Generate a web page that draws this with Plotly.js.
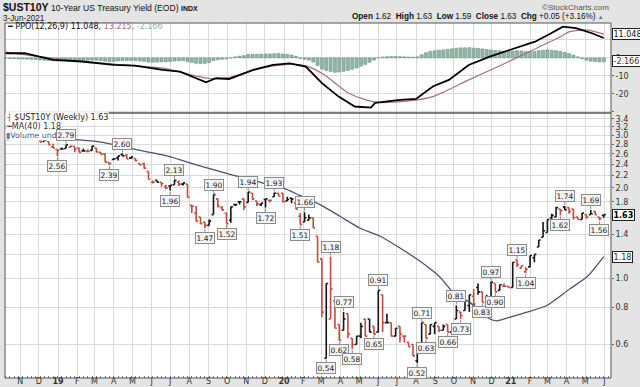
<!DOCTYPE html>
<html><head><meta charset="utf-8">
<script src="https://cdn.plot.ly/plotly-3.0.1.min.js"></script>
<style>html,body{margin:0;padding:0;background:#e4e4e4;}#chart{width:640px;height:387px;}</style>
</head><body><div id="chart"></div>
<script>
// ---- weekly bars (week start dates) ----
const weeks = ['2018-10-08','2018-10-15','2018-10-22','2018-10-29','2018-11-05','2018-11-12','2018-11-19','2018-11-26','2018-12-03','2018-12-10','2018-12-17','2018-12-24','2018-12-31',
'2019-01-07','2019-01-14','2019-01-21','2019-01-28','2019-02-04','2019-02-11','2019-02-18','2019-02-25','2019-03-04','2019-03-11','2019-03-18','2019-03-25','2019-04-01','2019-04-08','2019-04-15','2019-04-22','2019-04-29','2019-05-06','2019-05-13','2019-05-20','2019-05-27','2019-06-03','2019-06-10','2019-06-17','2019-06-24','2019-07-01','2019-07-08','2019-07-15','2019-07-22','2019-07-29','2019-08-05','2019-08-12','2019-08-19','2019-08-26','2019-09-02','2019-09-09','2019-09-16','2019-09-23','2019-09-30','2019-10-07','2019-10-14','2019-10-21','2019-10-28','2019-11-04','2019-11-11','2019-11-18','2019-11-25','2019-12-02','2019-12-09','2019-12-16','2019-12-23','2019-12-30',
'2020-01-06','2020-01-13','2020-01-20','2020-01-27','2020-02-03','2020-02-10','2020-02-17','2020-02-24','2020-03-02','2020-03-09','2020-03-16','2020-03-23','2020-03-30','2020-04-06','2020-04-13','2020-04-20','2020-04-27','2020-05-04','2020-05-11','2020-05-18','2020-05-25','2020-06-01','2020-06-08','2020-06-15','2020-06-22','2020-06-29','2020-07-06','2020-07-13','2020-07-20','2020-07-27','2020-08-03','2020-08-10','2020-08-17','2020-08-24','2020-08-31','2020-09-07','2020-09-14','2020-09-21','2020-09-28','2020-10-05','2020-10-12','2020-10-19','2020-10-26','2020-11-02','2020-11-09','2020-11-16','2020-11-23','2020-11-30','2020-12-07','2020-12-14','2020-12-21','2020-12-28',
'2021-01-04','2021-01-11','2021-01-18','2021-01-25','2021-02-01','2021-02-08','2021-02-15','2021-02-22','2021-03-01','2021-03-08','2021-03-15','2021-03-22','2021-03-29','2021-04-05','2021-04-12','2021-04-19','2021-04-26','2021-05-03','2021-05-10','2021-05-17','2021-05-24','2021-05-31'];

const openP = [3.23,3.16,3.17,3.12,3.20,3.14,3.06,3.07,2.98,2.86,2.86,2.74,2.69,
2.70,2.71,2.74,2.75,2.72,2.66,2.65,2.67,2.72,2.63,2.60,2.43,2.49,2.52,2.59,2.57,2.52,2.51,2.41,2.41,2.27,2.09,2.12,2.09,2.02,2.03,2.05,2.09,2.06,2.06,1.75,1.65,1.60,1.54,1.50,1.63,1.84,1.72,1.65,1.56,1.76,1.80,1.84,1.79,1.92,1.81,1.76,1.83,1.82,1.87,1.92,1.92,
1.81,1.85,1.78,1.61,1.54,1.56,1.59,1.38,1.16,0.54,0.73,0.84,0.70,0.67,0.76,0.63,0.60,0.64,0.73,0.73,0.69,0.66,0.88,0.71,0.71,0.64,0.69,0.64,0.61,0.60,0.53,0.58,0.70,0.65,0.69,0.69,0.67,0.70,0.66,0.73,0.77,0.78,0.81,0.87,0.93,0.90,0.86,0.84,0.96,0.91,0.94,0.94,
0.93,1.15,1.08,1.05,1.09,1.17,1.27,1.37,1.42,1.59,1.60,1.70,1.73,1.72,1.70,1.60,1.57,1.63,1.63,1.67,1.60,1.62];
const highP = [3.23,3.20,3.17,3.22,3.24,3.14,3.06,3.07,2.98,2.91,2.86,2.81,2.69,
2.73,2.79,2.76,2.75,2.73,2.71,2.69,2.76,2.72,2.63,2.60,2.43,2.52,2.56,2.60,2.59,2.54,2.51,2.41,2.43,2.27,2.12,2.12,2.09,2.05,2.04,2.13,2.12,2.08,2.06,1.75,1.74,1.60,1.54,1.57,1.90,1.84,1.74,1.65,1.73,1.76,1.80,1.84,1.94,1.92,1.81,1.78,1.84,1.82,1.93,1.92,1.92,
1.87,1.85,1.78,1.65,1.66,1.63,1.59,1.38,1.16,0.96,1.18,0.84,0.70,0.77,0.76,0.63,0.64,0.71,0.73,0.73,0.69,0.91,0.88,0.76,0.71,0.68,0.69,0.64,0.61,0.60,0.57,0.71,0.70,0.70,0.71,0.69,0.70,0.70,0.70,0.81,0.77,0.85,0.88,0.92,0.96,0.90,0.88,0.97,0.96,0.95,0.96,0.94,
1.13,1.15,1.10,1.09,1.19,1.20,1.34,1.54,1.57,1.64,1.73,1.70,1.74,1.72,1.70,1.60,1.65,1.63,1.69,1.68,1.60,1.63];
const lowP = [3.15,3.15,3.08,3.12,3.18,3.08,3.05,2.99,2.85,2.86,2.79,2.72,2.56,
2.70,2.71,2.72,2.63,2.63,2.66,2.65,2.67,2.63,2.59,2.44,2.39,2.49,2.47,2.56,2.50,2.50,2.45,2.38,2.32,2.14,2.07,2.09,2.02,1.98,1.96,2.05,2.03,2.04,1.86,1.65,1.55,1.52,1.47,1.50,1.63,1.72,1.68,1.52,1.53,1.74,1.76,1.69,1.79,1.82,1.74,1.74,1.72,1.79,1.87,1.88,1.79,
1.81,1.78,1.70,1.51,1.54,1.56,1.47,1.13,0.74,0.54,0.73,0.68,0.62,0.67,0.63,0.58,0.60,0.63,0.64,0.66,0.65,0.66,0.66,0.71,0.64,0.64,0.61,0.61,0.59,0.55,0.52,0.58,0.63,0.65,0.65,0.66,0.67,0.66,0.66,0.73,0.73,0.78,0.77,0.78,0.88,0.83,0.84,0.84,0.90,0.91,0.94,0.93,
0.93,1.09,1.08,1.04,1.09,1.13,1.27,1.37,1.42,1.52,1.60,1.62,1.69,1.64,1.57,1.57,1.57,1.58,1.63,1.63,1.56,1.59];
const closeP = [3.16,3.20,3.08,3.22,3.19,3.08,3.05,3.01,2.85,2.89,2.79,2.72,2.67,
2.70,2.79,2.76,2.70,2.63,2.66,2.65,2.76,2.64,2.59,2.44,2.41,2.50,2.56,2.56,2.50,2.54,2.47,2.39,2.33,2.14,2.09,2.09,2.07,2.00,2.04,2.12,2.06,2.08,1.86,1.74,1.55,1.52,1.50,1.55,1.90,1.74,1.69,1.52,1.73,1.76,1.80,1.73,1.94,1.84,1.77,1.78,1.84,1.82,1.92,1.88,1.80,
1.83,1.84,1.70,1.51,1.59,1.59,1.47,1.13,0.77,0.96,0.92,0.68,0.62,0.73,0.65,0.60,0.64,0.69,0.64,0.66,0.65,0.91,0.71,0.71,0.64,0.68,0.65,0.64,0.59,0.55,0.57,0.71,0.63,0.70,0.71,0.67,0.69,0.66,0.70,0.78,0.75,0.84,0.88,0.82,0.90,0.83,0.84,0.97,0.90,0.95,0.94,0.93,
1.13,1.11,1.10,1.07,1.19,1.20,1.34,1.44,1.57,1.62,1.72,1.68,1.69,1.67,1.59,1.57,1.65,1.60,1.64,1.63,1.58,1.63];

// ---- MA(40) line ----
const maDates = ['2018-10-08','2018-11-22','2019-01-15','2019-03-09','2019-05-02','2019-06-26','2019-08-18','2019-10-10','2019-11-07','2019-12-04','2019-12-30','2020-01-26','2020-02-28','2020-03-31','2020-05-02','2020-06-04','2020-07-06','2020-08-07','2020-09-08','2020-09-29','2020-10-27','2020-11-23','2020-12-09','2020-12-30','2021-01-27','2021-02-28','2021-04-06','2021-05-04','2021-05-31'];
const maVals = [2.89,2.94,2.91,2.85,2.70,2.56,2.37,2.21,2.14,2.06,2.00,1.89,1.76,1.61,1.47,1.38,1.26,1.14,1.01,0.90,0.83,0.74,0.72,0.74,0.77,0.81,0.92,1.01,1.18];

// ---- PPO panel ----
const ppoDates = ['2018-10-08','2018-11-08','2018-12-24','2019-02-08','2019-04-01','2019-05-05','2019-06-19','2019-07-17','2019-08-28','2019-09-13','2019-10-04','2019-11-12','2019-12-14','2020-01-10','2020-02-05','2020-03-02','2020-03-29','2020-04-24','2020-05-20','2020-05-27','2020-07-06','2020-08-01','2020-08-28','2020-09-23','2020-10-25','2020-11-28','2020-12-30','2021-02-09','2021-03-07','2021-03-26','2021-04-16','2021-05-12','2021-05-31'];
const ppoVals = [2.6,2.6,-1.1,-2.0,-3.9,-4.3,-6.7,-7.6,-13.5,-11.3,-11.7,-6.7,-3.9,-3.0,-4.8,-14.0,-21.5,-27.0,-27.6,-25.0,-23.3,-22.8,-15.9,-12.2,-3.9,0.7,4.4,9.0,13.7,17.4,16.5,13.7,11.048];
const sigDates = ['2018-10-08','2018-12-24','2019-04-01','2019-06-19','2019-08-31','2019-10-04','2019-11-27','2020-01-14','2020-02-09','2020-03-06','2020-04-14','2020-05-27','2020-07-19','2020-08-28','2020-10-25','2020-12-17','2021-01-31','2021-03-17','2021-04-06','2021-05-03','2021-05-31'];
const sigVals = [3.2,-0.2,-3.5,-5.7,-11.3,-10.9,-5.4,-3.5,-4.8,-9.4,-19.6,-24.6,-23.9,-21.5,-12.2,-3.9,3.5,10.9,14.6,15.6,13.215];
const histVals = [-0.2,-0.3,-0.4,-0.5,-0.6,-0.7,-0.8,-0.9,
-1.1,-1.3,-1.5,-1.6,-1.7,-1.6,-1.4,-1.3,-1.3,-1.4,-1.4,-1.3,-1.2,-1.3,-1.5,
-1.8,-2.0,-1.9,-1.7,-1.5,-1.5,-1.4,-1.5,-1.7,-1.9,-2.3,-2.4,-2.3,-2.2,-2.2,
-2.0,-1.7,-1.6,-1.5,-2.0,-2.6,-3.0,-3.1,-3.0,-2.6,
-1.5,-1.0,-0.7,-0.6,-0.1,
0.6,1.0,1.3,1.9,2.0,2.0,2.1,2.2,2.2,2.3,2.4,2.2,2.0,1.6,
0.9,-0.3,-0.8,-1.2,
-2.3,-4.2,-6.2,-7.0,-7.5,-8.0,-7.8,-7.4,-7.0,-6.3,-5.6,-4.6,-3.6,-2.4,-1.2,
0.1,0.5,0.7,0.8,0.8,0.7,0.6,0.5,0.4,0.6,
1.8,2.9,3.6,4.0,4.3,4.5,4.8,5.1,5.4,5.6,5.6,5.7,5.5,5.3,5.0,4.7,4.4,4.2,4.0,3.8,
3.6,3.8,4.0,3.9,3.6,3.5,3.6,4.0,4.3,4.5,4.2,4.0,3.6,3.0,2.4,1.6,
0.6,-0.4,-1.3,-1.8,-2.0,-2.2,-2.166];

// ---- swing labels ----
const lblDates = ['2019-01-14','2018-12-31','2019-04-15','2019-03-25','2019-07-08','2019-07-01','2019-09-09','2019-08-26','2019-09-30','2019-11-04','2019-12-02','2019-12-16','2020-02-03','2020-01-27','2020-03-16','2020-03-09','2020-04-06','2020-03-30','2020-04-20','2020-05-25','2020-06-01','2020-08-03','2020-08-10','2020-08-17','2020-09-21','2020-10-05','2020-10-12','2020-11-16','2020-11-30','2020-12-07','2021-01-11','2021-01-25','2021-03-29','2021-03-22','2021-05-10','2021-05-24'];
const lblVals = [2.79,2.56,2.60,2.39,2.13,1.96,1.90,1.47,1.52,1.94,1.72,1.93,1.66,1.51,1.18,0.54,0.77,0.62,0.58,0.65,0.91,0.52,0.71,0.63,0.66,0.81,0.73,0.83,0.97,0.90,1.15,1.04,1.74,1.62,1.69,1.56];
const lblSide = ['a','b','a','b','a','b','a','b','b','a','b','a','a','b','a','b','a','b','b','b','a','b','a','b','b','a','b','b','a','b','a','b','a','b','a','b'];

// ---- axes ticks ----
const monthTicks = ['2018-11-01','2018-12-01','2019-01-01','2019-02-01','2019-03-01','2019-04-01','2019-05-01','2019-06-01','2019-07-01','2019-08-01','2019-09-01','2019-10-01','2019-11-01','2019-12-01','2020-01-01','2020-02-01','2020-03-01','2020-04-01','2020-05-01','2020-06-01','2020-07-01','2020-08-01','2020-09-01','2020-10-01','2020-11-01','2020-12-01','2021-01-01','2021-02-01','2021-03-01','2021-04-01','2021-05-01','2021-06-01'];
const monthText = ['N','D','<b>19</b>','F','M','A','M','J','J','A','S','O','N','D','<b>20</b>','F','M','A','M','J','J','A','S','O','N','D','<b>21</b>','F','M','A','M','J'];
const yTickVals = [0.6,0.8,1.0,1.2,1.4,1.6,1.8,2.0,2.2,2.4,2.6,2.8,3.0,3.2,3.4];
const yTickText = ['0.6','0.8','1.0','','1.4','','1.8','2.0','2.2','2.4','2.6','2.8','3.0','3.2','3.4'];
const ppoTickVals = [-30,-20,-10,0,10,20];
const ppoTickText = ['','-20','-10','0','',''];

// split bars by close vs previous close
const up = {x:[],o:[],h:[],l:[],c:[]}, dn = {x:[],o:[],h:[],l:[],c:[]};
for (let i = 0; i < weeks.length; i++) {
  const prev = i === 0 ? openP[0] : closeP[i-1];
  const t = closeP[i] >= prev ? up : dn;
  t.x.push(weeks[i]); t.o.push(openP[i]); t.h.push(highP[i]); t.l.push(lowP[i]); t.c.push(closeP[i]);
}
const RED = '#c14b41', BLK = '#151515';
const ohlc = (d, col) => ({type:'ohlc', x:d.x, open:d.o, high:d.h, low:d.l, close:d.c, xaxis:'x', yaxis:'y',
  increasing:{line:{color:col,width:1.6}}, decreasing:{line:{color:col,width:1.6}}, tickwidth:0.45, showlegend:false, hoverinfo:'none'});

const traces = [
  {type:'bar', x:weeks, y:histVals, xaxis:'x', yaxis:'y2', marker:{color:'#93b5a6', line:{color:'#6a9685', width:0.6}}, showlegend:false, hoverinfo:'none'},
  {type:'scatter', mode:'lines', x:sigDates, y:sigVals, xaxis:'x', yaxis:'y2', line:{color:'#a8707c', width:1.2, shape:'spline', smoothing:0.6}, showlegend:false, hoverinfo:'none'},
  {type:'scatter', mode:'lines', x:ppoDates, y:ppoVals, xaxis:'x', yaxis:'y2', line:{color:'#000', width:1.8}, showlegend:false, hoverinfo:'none'},
  {type:'scatter', mode:'lines', x:maDates, y:maVals, xaxis:'x', yaxis:'y', line:{color:'#4b5270', width:1.3, shape:'spline', smoothing:0.6}, showlegend:false, hoverinfo:'none'},
  ohlc(up, BLK), ohlc(dn, RED)
];

const F = 'DejaVu Sans', A = 'Liberation Sans';
const PY = px => (378 - px) / 355;   // paper y from pixel
const PX = px => (px - 5) / 606;     // paper x from pixel
const ann = [];
// main-panel legend (drawn first so swing labels sit on top)
ann.push({xref:'paper', yref:'paper', x:0, y:PY(117.5), xanchor:'left', yanchor:'middle', showarrow:false, bgcolor:'#ffffff', borderpad:0,
  text:'<span style="color:#555">┤</span> $UST10Y (Weekly) 1.63', font:{family:F, size:8, color:'#222'}});
ann.push({xref:'paper', yref:'paper', x:0, y:PY(126.5), xanchor:'left', yanchor:'middle', showarrow:false, bgcolor:'#ffffff', borderpad:0,
  text:'<span style="color:#4b5270">━</span>MA(40) 1.18', font:{family:F, size:8, color:'#333'}});
ann.push({xref:'paper', yref:'paper', x:0, y:PY(135.5), xanchor:'left', yanchor:'middle', showarrow:false, bgcolor:'#ffffff', borderpad:0,
  text:'<span style="color:#5b78a8">▮</span>Volume undef', font:{family:F, size:7.8, color:'#3e5687'}});
for (let i = 0; i < lblDates.length; i++) {
  const above = lblSide[i] === 'a';
  ann.push({x:lblDates[i], y:Math.log10(lblVals[i]), xref:'x', yref:'y', text:lblVals[i].toFixed(2),
    showarrow:true, arrowhead:0, arrowwidth:1, arrowcolor:'#8c8c8c', ax:0, ay:above ? -10 : 10, standoff:1,
    bgcolor:'#f3f3f3', bordercolor:'#8c8c8c', borderwidth:1, borderpad:0.5, font:{family:F, size:7.5, color:'#222'}});
}
// PPO legend
ann.push({xref:'paper', yref:'paper', x:0, y:PY(26.5), xanchor:'left', yanchor:'middle', showarrow:false,
  text:'━ PPO(12,26,9) 11.048, <span style="color:#a8707c">13.215,</span> <span style="color:#8fb3a3">-2.166</span>', font:{family:F, size:8, color:'#111'}});
// header
ann.push({xref:'paper', yref:'paper', x:PX(1), y:PY(6.5), xanchor:'left', yanchor:'middle', showarrow:false,
  text:'<b><span style="font-size:10.5px">$UST10Y</span></b> 10-Year US Treasury Yield (EOD) <b><span style="font-size:7px">INDX</span></b>', font:{family:A, size:8.6, color:'#111'}});
ann.push({xref:'paper', yref:'paper', x:PX(1), y:PY(18), xanchor:'left', yanchor:'middle', showarrow:false,
  text:'3-Jun-2021', font:{family:A, size:8.2, color:'#222'}});
ann.push({xref:'paper', yref:'paper', x:PX(611), y:PY(7), xanchor:'right', yanchor:'middle', showarrow:false,
  text:'©StockCharts.com', font:{family:A, size:8, color:'#555'}});
ann.push({xref:'paper', yref:'paper', x:PX(606), y:PY(16.5), xanchor:'right', yanchor:'middle', showarrow:false,
  text:'<b>Open</b> 1.62  <b>High</b> 1.63  <b>Low</b> 1.59  <b>Close</b> 1.63  <b>Chg</b> +0.05 (+3.16%) <span style="font-size:6px;color:#777">▲</span>', font:{family:A, size:8.2, color:'#111'}});
// right-side value tags
const tag = (y, yref, text, col, bold, yshift) => ({xref:'paper', yref:yref, x:1, y:y, xanchor:'left', yanchor:'middle', xshift:1, yshift:yshift||0, showarrow:false,
  text: bold ? '<b>'+text+'</b>' : text, bgcolor:'#ffffff', bordercolor:'#222', borderwidth:1, borderpad:0.5, font:{family:F, size:8, color:col}});
ann.push(tag(Math.log10(1.63), 'y', '1.63', '#000', true));
ann.push(tag(Math.log10(1.18), 'y', '1.18', '#2a2f45', false));
ann.push(tag(11.048, 'y2', '11.048', '#111', false, 4));
ann.push(tag(-2.166, 'y2', '-2.166', '#333', false, 1));

const GRID = '#d9d9d9';
const tickF = {family:F, size:8, color:'#333'};
const layout = {
  width:640, height:387, margin:{l:5, r:29, t:23, b:9},
  paper_bgcolor:'#e4e4e4', plot_bgcolor:'#ffffff', showlegend:false, bargap:0.3,
  xaxis:{type:'date', range:['2018-10-07 10:00','2021-06-11 16:00'], tickvals:monthTicks, ticktext:monthText,
    showgrid:true, gridcolor:GRID, gridwidth:1, zeroline:false, ticks:'', tickfont:tickF, ticklabelstandoff:-3,
    rangeslider:{visible:false}, fixedrange:true, anchor:'y',
    minor:{ticks:'inside', ticklen:2, tickcolor:'#777', dtick:7*86400000, tick0:'2018-10-08', showgrid:false}},
  yaxis:{type:'log', domain:[0,0.7465], range:[Math.log10(0.464), Math.log10(3.56)], side:'right', anchor:'x',
    tickvals:yTickVals, ticktext:yTickText, showgrid:true, gridcolor:GRID, zeroline:false, ticks:'outside', ticklen:2, tickcolor:'#666', tickfont:tickF, fixedrange:true},
  yaxis2:{domain:[0.7465,1], range:[-30.6,19.4], side:'right', anchor:'x',
    tickvals:ppoTickVals, ticktext:ppoTickText, showgrid:true, gridcolor:GRID, zeroline:false, ticks:'outside', ticklen:2, tickcolor:'#666', tickfont:tickF, fixedrange:true},
  shapes:[
    {type:'rect', xref:'paper', yref:'paper', x0:0, x1:1, y0:0.7465, y1:1, line:{color:'#555', width:1}},
    {type:'rect', xref:'paper', yref:'paper', x0:0, x1:1, y0:0, y1:0.7465, line:{color:'#555', width:1}}
  ],
  annotations:ann
};
Plotly.newPlot('chart', traces, layout, {staticPlot:true, displayModeBar:false});
</script></body></html>
